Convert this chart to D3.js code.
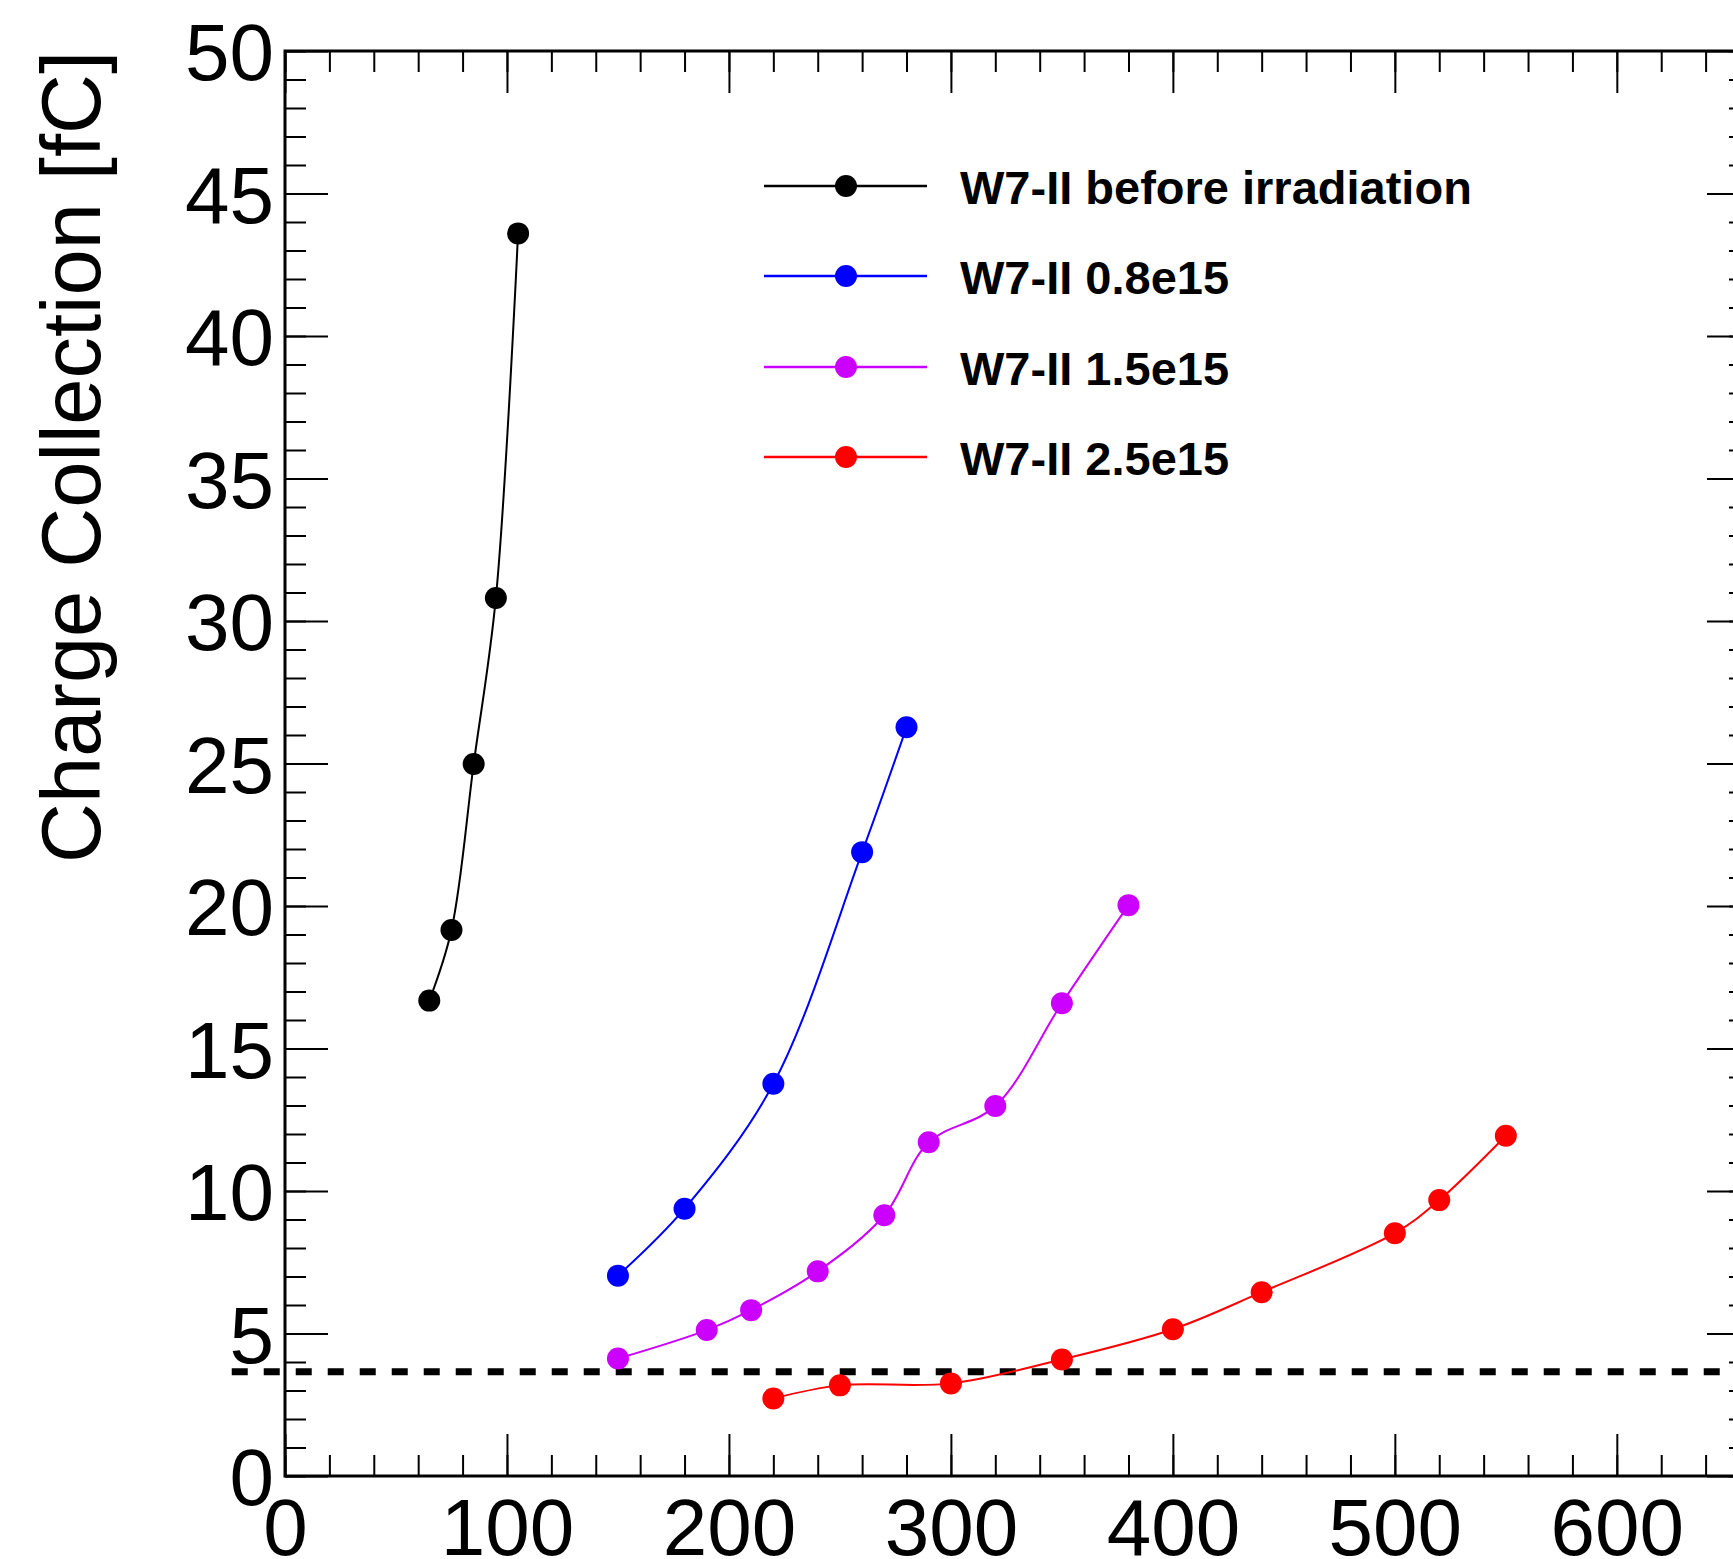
<!DOCTYPE html>
<html lang="en">
<head>
<meta charset="utf-8">
<title>Charge collection</title>
<script src="https://d3js.org/d3.v7.min.js"></script>
<style>
  body { margin: 0; background: #fff; }
  svg { display: block; overflow: hidden; }
  text { font-family: "Liberation Sans", Arial, Helvetica, sans-serif; fill: #000; }
</style>
</head>
<body>
<script>
var xTicks = [0, 100, 200, 300, 400, 500, 600];
var yTicks = [0, 5, 10, 15, 20, 25, 30, 35, 40, 45, 50];

var seriesNames = ["W7-II before irradiation", "W7-II 0.8e15", "W7-II 1.5e15", "W7-II 2.5e15"];
var seriesColors = ["#000000", "#0000ff", "#cc00ff", "#ff0000"];

var beforeV = [65, 75, 85, 95, 105];
var beforeQ = [16.68, 19.16, 24.98, 30.81, 43.6];

var irr08V = [150, 180, 220, 260, 280];
var irr08Q = [7.03, 9.38, 13.76, 21.89, 26.27];

var irr15V = [150, 190, 210, 240, 270, 290, 320, 350, 380];
var irr15Q = [4.12, 5.12, 5.82, 7.18, 9.15, 11.71, 12.98, 16.59, 20.03];

var irr25V = [220, 250, 300, 350, 400, 440, 500, 520, 550];
var irr25Q = [2.72, 3.18, 3.25, 4.09, 5.15, 6.45, 8.52, 9.68, 11.94];

var threshold = 3.66;
var thresholdFrom = -24;

// canvas ("top" is taken by window.top, so use pad names)
var w = 1733;
var h = 1559;
var padL = 285, padR = 1750, padT = 51, padB = 1476;

var svg = d3.select("body")
            .append("svg")
            .attr("width", w)
            .attr("height", h);

var x = d3.scaleLinear().domain([0, 660]).range([padL, padR]);
var y = d3.scaleLinear().domain([0, 50]).range([padB, padT]);

var minorX = d3.range(0, 661, 20);
var minorY = d3.range(0, 51, 1);

// frame
svg.append("rect")
   .attr("x", padL).attr("y", padT)
   .attr("width", padR - padL).attr("height", padB - padT)
   .attr("fill", "none").attr("stroke", "#000").attr("stroke-width", 3);

function styleAxis(g) {
  g.select(".domain").remove();
  g.selectAll(".tick line").attr("stroke", "#000").attr("stroke-width", 2);
}

// bottom axis, ticks pointing up
svg.append("g").attr("transform", "translate(0," + padB + ")")
   .call(d3.axisBottom(x).tickValues(minorX).tickSize(-21).tickFormat(""))
   .call(styleAxis);
svg.append("g").attr("transform", "translate(0," + padB + ")")
   .call(d3.axisBottom(x).tickValues(xTicks).tickSize(-42).tickPadding(22).tickFormat(d3.format("d")))
   .call(styleAxis)
   .selectAll("text").attr("font-size", 80).attr("fill", "#000");

// top axis, ticks pointing down
svg.append("g").attr("transform", "translate(0," + padT + ")")
   .call(d3.axisTop(x).tickValues(minorX).tickSize(-21).tickFormat(""))
   .call(styleAxis);
svg.append("g").attr("transform", "translate(0," + padT + ")")
   .call(d3.axisTop(x).tickValues(xTicks).tickSize(-42).tickFormat(""))
   .call(styleAxis);

// left axis, ticks pointing right
svg.append("g").attr("transform", "translate(" + padL + ",0)")
   .call(d3.axisLeft(y).tickValues(minorY).tickSize(-21).tickFormat(""))
   .call(styleAxis);
svg.append("g").attr("transform", "translate(" + padL + ",0)")
   .call(d3.axisLeft(y).tickValues(yTicks).tickSize(-43).tickPadding(11).tickFormat(d3.format("d")))
   .call(styleAxis)
   .selectAll("text").attr("font-size", 80).attr("dy", "0.36em").attr("fill", "#000");

// right axis, ticks pointing left
svg.append("g").attr("transform", "translate(" + padR + ",0)")
   .call(d3.axisRight(y).tickValues(minorY).tickSize(-21).tickFormat(""))
   .call(styleAxis);
svg.append("g").attr("transform", "translate(" + padR + ",0)")
   .call(d3.axisRight(y).tickValues(yTicks).tickSize(-43).tickFormat(""))
   .call(styleAxis);

// y title
svg.append("text")
   .attr("transform", "translate(100," + padT + ") rotate(-90)")
   .attr("text-anchor", "end")
   .attr("font-size", 83)
   .text("Charge Collection [fC]");

// threshold line
svg.append("line")
   .attr("x1", x(thresholdFrom)).attr("x2", x(660))
   .attr("y1", y(threshold)).attr("y2", y(threshold))
   .attr("stroke", "#000").attr("stroke-width", 7)
   .attr("stroke-dasharray", "16,16");

// curves + markers
var series = [
  {v: beforeV, q: beforeQ},
  {v: irr08V, q: irr08Q},
  {v: irr15V, q: irr15Q},
  {v: irr25V, q: irr25Q}
];

var line = d3.line()
   .x(function(d){ return x(d[0]); })
   .y(function(d){ return y(d[1]); })
   .curve(d3.curveCatmullRom.alpha(0.5));

series.forEach(function(s, i){
  var pts = s.v.map(function(v, j){ return [v, s.q[j]]; });
  svg.append("path")
     .datum(pts)
     .attr("d", line)
     .attr("fill", "none")
     .attr("stroke", seriesColors[i])
     .attr("stroke-width", 2);
  svg.append("g").selectAll("circle")
     .data(pts)
     .enter()
     .append("circle")
     .attr("cx", function(d){ return x(d[0]); })
     .attr("cy", function(d){ return y(d[1]); })
     .attr("r", 11)
     .attr("fill", seriesColors[i]);
});

// legend
var legY = [186, 276, 367, 457];
var leg = svg.append("g");
seriesNames.forEach(function(name, i){
  leg.append("line")
     .attr("x1", 764).attr("x2", 927)
     .attr("y1", legY[i]).attr("y2", legY[i])
     .attr("stroke", seriesColors[i]).attr("stroke-width", 2.5);
  leg.append("circle")
     .attr("cx", 846).attr("cy", legY[i]).attr("r", 11)
     .attr("fill", seriesColors[i]);
  leg.append("text")
     .attr("x", 960).attr("y", legY[i] + 18)
     .attr("font-size", 47).attr("font-weight", "bold")
     .text(name);
});
</script>
</body>
</html>
